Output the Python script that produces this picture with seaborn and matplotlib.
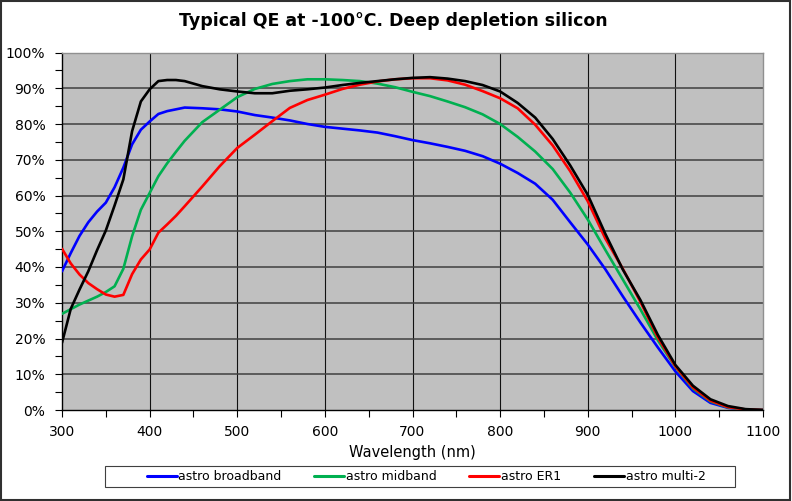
import numpy as np
import pandas as pd
import matplotlib
matplotlib.use("Agg")
import matplotlib.pyplot as plt
from matplotlib.patches import Rectangle
from matplotlib.ticker import MultipleLocator, FuncFormatter
import seaborn as sns

sns.set_theme(style="white")
plt.rcParams['font.family'] = ['DejaVu Sans']
plt.rcParams.update({"text.color": "black", "axes.labelcolor": "black",
                     "xtick.color": "black", "ytick.color": "black"})

wavelength = [300, 310, 320, 330, 340, 350, 360, 370, 380, 390, 400, 410, 420, 430, 440,
              460, 480, 500, 520, 540, 560, 580, 600, 620, 640, 660, 680, 700, 720, 740,
              760, 780, 800, 820, 840, 860, 880, 900, 920, 940, 960, 980, 1000, 1020, 1040,
              1060, 1080, 1100]

broadband = [38.8, 43.9, 48.7, 52.5, 55.5, 58.0, 62.3, 67.8, 74.3, 78.4, 80.7, 82.8, 83.6, 84.1, 84.6,
             84.4, 84.1, 83.5, 82.5, 81.8, 81.0, 80.0, 79.2, 78.7, 78.2, 77.6, 76.6, 75.5, 74.6, 73.6,
             72.5, 71.0, 68.9, 66.3, 63.3, 58.8, 52.5, 46.3, 39.4, 31.8, 24.5, 17.5, 10.8, 5.3, 2.0,
             0.6, 0.1, 0.0]

midband = [26.9, 28.2, 29.5, 30.6, 31.7, 33.0, 34.6, 39.5, 48.6, 56.0, 60.7, 65.4, 69.0, 72.2, 75.3,
           80.5, 84.0, 87.5, 89.8, 91.2, 92.0, 92.5, 92.5, 92.3, 92.0, 91.3, 90.3, 89.0, 87.8, 86.3,
           84.7, 82.7, 80.0, 76.4, 72.3, 67.4, 60.8, 53.3, 44.8, 36.5, 28.2, 19.5, 12.0, 6.0, 2.4,
           0.7, 0.1, 0.0]

er1 = [45.1, 41.0, 37.9, 35.5, 33.8, 32.3, 31.7, 32.2, 38.0, 42.1, 44.9, 49.6, 51.9, 54.3, 57.0,
       62.5, 68.2, 73.3, 77.0, 80.8, 84.5, 86.7, 88.2, 89.8, 91.0, 91.9, 92.5, 92.8, 92.8, 92.2,
       91.0, 89.2, 87.2, 84.4, 79.8, 74.0, 66.8, 58.4, 48.0, 39.5, 30.3, 20.3, 12.2, 6.3, 2.6,
       0.8, 0.15, 0.0]

multi2 = [18.8, 28.3, 33.7, 38.8, 44.7, 50.2, 57.2, 64.5, 78.0, 86.3, 89.7, 92.0, 92.3, 92.3, 92.0,
          90.6, 89.7, 89.1, 88.6, 88.6, 89.3, 89.7, 90.2, 90.9, 91.5, 92.0, 92.5, 92.9, 93.1, 92.7,
          92.0, 90.9, 89.1, 85.9, 81.8, 75.8, 68.4, 60.2, 49.3, 39.3, 30.8, 21.0, 12.6, 6.8, 3.0,
          1.1, 0.25, 0.0]

series_names = ["astro broadband", "astro midband", "astro ER1", "astro multi-2"]
series_colors = ["#0000FF", "#00B050", "#FF0000", "#000000"]

df = pd.DataFrame({
    "Wavelength": wavelength * 4,
    "QE": broadband + midband + er1 + multi2,
    "Series": np.repeat(series_names, len(wavelength)),
})

W, H = 792, 501
fig = plt.figure(figsize=(W / 100, H / 100), dpi=100)
ax = fig.add_axes([62 / W, 1 - 410 / H, (763 - 62) / W, (410 - 52.5) / H])
ax.set_facecolor("#C0C0C0")

sns.lineplot(data=df, x="Wavelength", y="QE", hue="Series", hue_order=series_names,
             palette=series_colors, linewidth=1.9, estimator=None, sort=False,
             legend=False, ax=ax, zorder=3)

ax.set_xlim(300, 1100)
ax.set_ylim(0, 100)
ax.xaxis.set_major_locator(MultipleLocator(100))
ax.xaxis.set_minor_locator(MultipleLocator(50))
ax.yaxis.set_major_locator(MultipleLocator(10))
ax.yaxis.set_minor_locator(MultipleLocator(5))
ax.yaxis.set_major_formatter(FuncFormatter(lambda v, p: f"{v:.0f}%"))

ax.grid(False)
for x in range(400, 1100, 100):
    ax.axvline(x, color="#111111", lw=0.8, zorder=1)
for y in range(10, 100, 10):
    ax.axhline(y, color="#404040", lw=1.1, zorder=1)

ax.tick_params(axis="both", which="both", direction="out", length=5, width=0.8,
               color="black", bottom=True, left=True)
ax.tick_params(axis="x", which="major", labelsize=10, pad=6)
ax.tick_params(axis="y", which="major", labelsize=10, pad=7)

for side in ["top", "right"]:
    ax.spines[side].set_color("#909090")
    ax.spines[side].set_linewidth(1.0)
for side in ["left", "bottom"]:
    ax.spines[side].set_color("black")
    ax.spines[side].set_linewidth(1.0)

ax.set_xlabel("Wavelength (nm)", fontsize=10.5, labelpad=4)
ax.set_ylabel("")

fig.text(0.497, 1 - 20.5 / H, "Typical QE at -100\u00b0C. Deep depletion silicon",
         ha="center", va="center", fontsize=12.5, fontweight="bold")

# legend box drawn separately so its size matches
fig.patches.append(Rectangle((105 / W, 1 - 487 / H), 630 / W, 21 / H,
                             transform=fig.transFigure, facecolor="white",
                             edgecolor="#404040", lw=0.8))
handles = [plt.Line2D([], [], color=c, lw=2.2) for c in series_colors]
fig.legend(handles, series_names, loc="center", bbox_to_anchor=(426 / W, 1 - 476.5 / H),
           ncol=4, frameon=False, fontsize=9, handlelength=2.4, handletextpad=0.15,
           columnspacing=2.6, borderaxespad=0)

# outer chart frame
fig.patches.append(Rectangle((0.001, 0.002), 0.997, 0.996, transform=fig.transFigure,
                             fill=False, edgecolor="#303030", lw=1.5))

fig.savefig("out.png", dpi=100, facecolor="white")
